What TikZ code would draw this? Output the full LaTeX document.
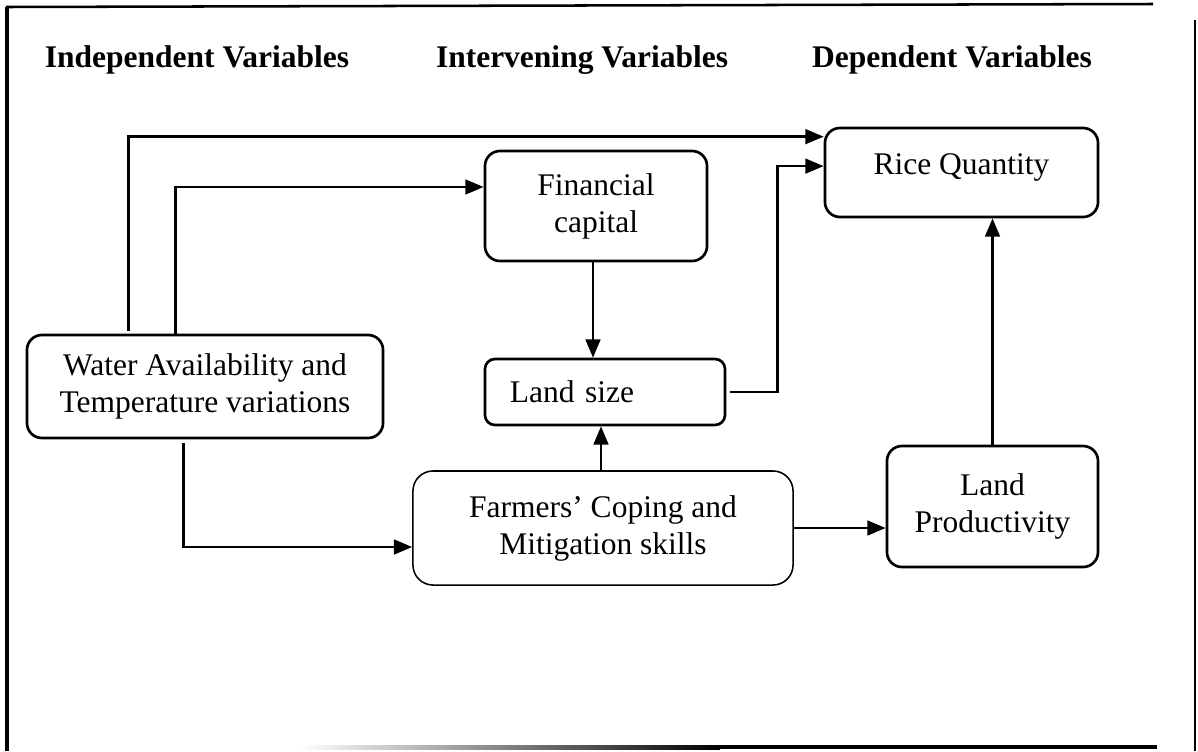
\documentclass[tikz,border=0pt]{standalone}
\usepackage{fontspec}
\setmainfont{Liberation Serif}
\usetikzlibrary{arrows.meta}

\begin{document}
\begin{tikzpicture}[x=0.025cm,y=-0.025cm,
  every node/.style={font=\fontsize{22.4}{26.3}\selectfont},
  head/.style={font=\fontsize{22.4}{26.3}\selectfont\bfseries},
  box/.style={draw,line width=1.9pt,rounded corners=0.375cm,align=center},
  softbox/.style={box,line width=1.1pt,rounded corners=0.5cm},
  arr/.style={line width=1.7pt,-{Triangle[length=13pt,width=10.5pt]}},
]
\useasboundingbox (0,0) rectangle (1198,751);

% frame
\draw[line width=2.2pt] (7,751) -- (7,7);
\draw[line width=1.8pt] (6,7) -- (1153,4);
\draw[line width=1pt] (1195,20) -- (1195,751);
\shade[left color=white,right color=black] (300,745) rectangle (720,749);
\fill (720,745) rectangle (1157,749);

% headings
\node[head] (hind) at (197,60) {Independent Variables};
\node[head] (hint) at (582,60) {Intervening Variables};
\node[head] (hdep) at (952,60) {Dependent Variables};

% boxes
\node[box,minimum width=8.9cm,minimum height=2.575cm] (water) at (205,386.5)
  {Water Availability and\\Temperature variations};
\node[box,minimum width=5.55cm,minimum height=2.75cm] (fin) at (596,206)
  {Financial\\capital};
\node[box,rounded corners=0.25cm,minimum height=1.65cm,
  text width=4.75cm,inner xsep=0.625cm,align=left] (land) at (605,392)
  {Land size};
\node[softbox,minimum width=9.5cm,minimum height=2.85cm] (farm) at (603,528)
  {Farmers’ Coping and\\Mitigation skills};
\node[box,minimum width=6.825cm,minimum height=2.225cm,text depth=0.43cm] (rice) at (961.5,172.5)
  {Rice Quantity};
\node[box,minimum width=5.275cm,minimum height=3.025cm] (prod) at (992.5,506.5)
  {Land\\Productivity};

% connectors
\draw[arr] ([xshift=2.575cm,yshift=0.075cm]water.north west) |- ([yshift=-0.25cm]rice.north west);
\draw[arr] ([xshift=3.75cm]water.north west) |- ([yshift=0.475cm]fin.west);
\draw[arr] ([xshift=3.95cm,yshift=-0.1cm]water.south west) |- ([yshift=-0.475cm]farm.west);
\draw[arr] ([xshift=-0.075cm]fin.south) -- ([xshift=-0.075cm]fin.south |- land.north);
\draw[arr] ([xshift=-0.05cm]farm.north) -- ([xshift=-0.05cm]farm.north |- land.south);
\draw[arr] ([xshift=0.1cm]land.east) -- ++(47,0) |- ([yshift=0.16cm]rice.west);
\draw[arr] (farm.east) -- (farm.east -| prod.west);
\draw[arr] (prod.north) -- (prod.north |- rice.south);
\end{tikzpicture}
\end{document}
